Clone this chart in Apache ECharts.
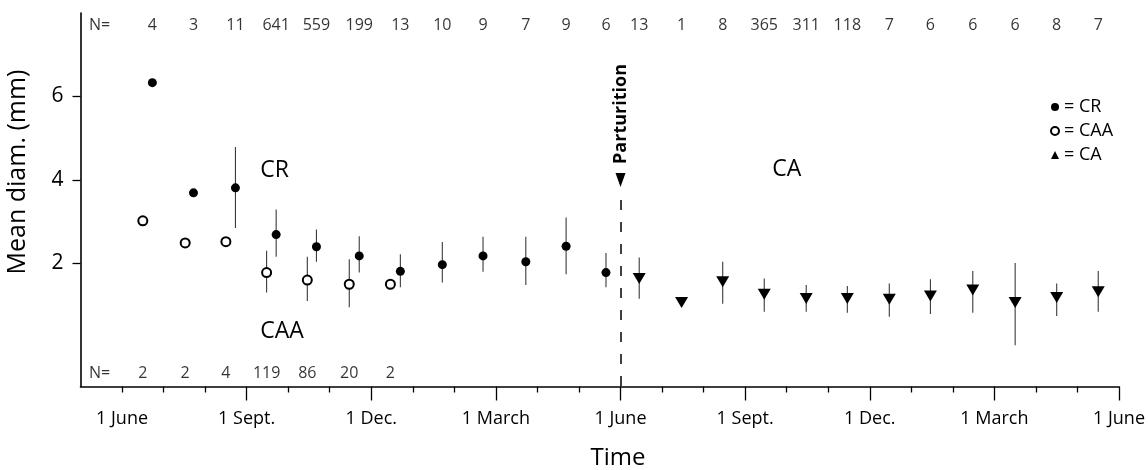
<!DOCTYPE html>
<html><head><meta charset="utf-8">
<script src="https://cdn.jsdelivr.net/npm/echarts@6/dist/echarts.min.js"></script>
<style>html,body{margin:0;padding:0;background:#fff}#c{width:1148px;height:470px}</style>
</head><body><div id="c"></div>
<script>
// ---- axis ticks (x in months after 1 June of year 1) ----
const tickMonths = [0, 3, 6, 9, 12, 15, 18, 21, 24];
const tickLabels = ['1 June', '1 Sept.', '1 Dec.', '1 March', '1 June', '1 Sept.', '1 Dec.', '1 March', '1 June'];
const majorTickMonths = [3, 6, 9, 12, 15, 18, 21, 24];
const minorTickMonths = [0, 1, 2, 4, 5, 7, 8, 10, 11, 13, 14, 16, 17, 19, 20, 22, 23];
const yTicks = [2, 4, 6];

// ---- CR (filled circles) ----
const crMonth = [0.73, 1.72, 2.73, 3.71, 4.68, 5.71, 6.70, 7.71, 8.69, 9.72, 10.69, 11.65];
const crMean  = [6.33, 3.69, 3.81, 2.69, 2.40, 2.18, 1.81, 1.97, 2.18, 2.04, 2.41, 1.78];
const crLow   = [null, null, 2.85, 2.16, 2.04, 1.78, 1.43, 1.54, 1.80, 1.48, 1.74, 1.43];
const crHigh  = [null, null, 4.79, 3.29, 2.81, 2.65, 2.22, 2.51, 2.64, 2.64, 3.10, 2.25];
const crN     = [4, 3, 11, 641, 559, 199, 13, 10, 9, 7, 9, 6];

// ---- CAA (open circles) ----
const caaMonth = [0.50, 1.52, 2.50, 3.48, 4.46, 5.47, 6.46];
const caaMean  = [3.02, 2.49, 2.52, 1.78, 1.60, 1.50, 1.50];
const caaLow   = [null, null, null, 1.30, 1.10, 0.95, null];
const caaHigh  = [null, null, null, 2.30, 2.16, 2.10, null];
const caaN     = [2, 2, 4, 119, 86, 20, 2];

// ---- CA (triangles) ----
const caMonth = [12.45, 13.47, 14.46, 15.46, 16.47, 17.46, 18.47, 19.46, 20.48, 21.50, 22.50, 23.50];
const caMean  = [1.64, 1.06, 1.56, 1.26, 1.16, 1.16, 1.14, 1.22, 1.36, 1.06, 1.18, 1.32];
const caLow   = [1.15, null, 1.03, 0.84, 0.84, 0.82, 0.72, 0.79, 0.82, 0.04, 0.74, 0.84];
const caHigh  = [2.14, null, 2.04, 1.64, 1.48, 1.46, 1.52, 1.62, 1.82, 2.01, 1.52, 1.82];
const caN     = [13, 1, 8, 365, 311, 118, 7, 6, 6, 6, 8, 7];

const partMonth = 12;

// ---- layout constants ----
const FONT = '"Open Sans", sans-serif';
const X_MIN = -1, X_MAX = 24, Y_MIN = -0.95, Y_MAX = 8;
const N_TOP_Y = 7.71, N_BOT_Y = -0.63, N_LABEL_X = -0.54;

const pts = (xs, ys) => xs.map((x, i) => [x, ys[i]]);
const bars = (xs, lo, hi) => xs.map((x, i) => [x, lo[i], hi[i]]).filter(d => d[1] != null && d[2] != null);

function errRender(params, api) {
  const x = api.value(0);
  const p1 = api.coord([x, api.value(1)]);
  const p2 = api.coord([x, api.value(2)]);
  return { type: 'line', shape: { x1: p1[0], y1: p1[1], x2: p2[0], y2: p2[1] },
           style: { stroke: '#3a3a3a', lineWidth: 1.1 } };
}

const topNData = crMonth.map((m, i) => [m, N_TOP_Y, crN[i]])
  .concat(caMonth.map((m, i) => [m, N_TOP_Y, caN[i]]))
  .concat([[N_LABEL_X, N_TOP_Y, 'N=']]);
const botNData = caaMonth.map((m, i) => [m, N_BOT_Y, caaN[i]])
  .concat([[N_LABEL_X, N_BOT_Y, 'N=']]);

const labelSeries = (data) => ({
  type: 'scatter', data, symbolSize: 1, itemStyle: { color: 'rgba(0,0,0,0)' }, silent: true, z: 5,
  label: { show: true, position: 'inside', formatter: p => String(p.value[2]),
           color: '#000', fontFamily: FONT, fontSize: 16 }
});

const chart = echarts.init(document.getElementById('c'), null, { renderer: 'canvas' });
chart.setOption({
  animation: false,
  backgroundColor: '#fff',
  textStyle: { fontFamily: FONT, color: '#000' },
  grid: { left: 80.5, right: 27, top: 13, bottom: 83.5, containLabel: false },
  legend: {
    orient: 'vertical', left: 1045, top: 93, itemWidth: 8, itemHeight: 8, itemGap: 6,
    symbolRotate: 0,
    formatter: n => '= ' + n,
    textStyle: { fontFamily: FONT, fontSize: 18, color: '#000' },
    data: [
      { name: 'CR', icon: 'circle' },
      { name: 'CAA', icon: 'emptyCircle' },
      { name: 'CA', icon: 'triangle' }
    ]
  },
  xAxis: [
    {
      type: 'value', min: X_MIN, max: X_MAX, position: 'bottom',
      axisLine: { show: true, onZero: false, lineStyle: { color: '#000', width: 1.6 } },
      axisTick: { show: true, customValues: majorTickMonths, length: 14, inside: false,
                  lineStyle: { color: '#000', width: 1.3 } },
      axisLabel: { show: true, customValues: tickMonths, margin: 23, color: '#000',
                   fontFamily: FONT, fontSize: 18,
                   formatter: v => { const i = tickMonths.indexOf(Math.round(v)); return i >= 0 ? tickLabels[i] : ''; } },
      splitLine: { show: false }
    },
    {
      type: 'value', min: X_MIN, max: X_MAX, position: 'bottom', gridIndex: 0,
      axisLine: { show: false, onZero: false },
      axisTick: { show: true, customValues: minorTickMonths, length: 6, inside: false,
                  lineStyle: { color: '#000', width: 1.3 } },
      axisLabel: { show: false },
      splitLine: { show: false }
    }
  ],
  yAxis: {
    type: 'value', min: Y_MIN, max: Y_MAX, position: 'left',
    axisLine: { show: true, onZero: false, lineStyle: { color: '#000', width: 1.6 } },
    axisTick: { show: true, customValues: yTicks, length: 8, lineStyle: { color: '#000', width: 1.3 } },
    axisLabel: { show: true, customValues: yTicks, margin: 17, color: '#000', fontFamily: FONT, fontSize: 21 },
    splitLine: { show: false }
  },
  series: [
    { type: 'custom', name: 'errCR', renderItem: errRender, data: bars(crMonth, crLow, crHigh), z: 2, silent: true },
    { type: 'custom', name: 'errCAA', renderItem: errRender, data: bars(caaMonth, caaLow, caaHigh), z: 2, silent: true },
    { type: 'custom', name: 'errCA', renderItem: errRender, data: bars(caMonth, caLow, caHigh), z: 2, silent: true },
    { type: 'scatter', name: 'CR', data: pts(crMonth, crMean), symbol: 'circle', symbolSize: 9,
      itemStyle: { color: '#000', opacity: 1 }, z: 4 },
    { type: 'scatter', name: 'CAA', data: pts(caaMonth, caaMean), symbol: 'emptyCircle', symbolSize: 9,
      itemStyle: { color: '#000', borderColor: '#000', borderWidth: 1, opacity: 1 }, z: 4 },
    { type: 'scatter', name: 'CA', data: pts(caMonth, caMean), symbol: 'triangle', symbolRotate: 180,
      symbolSize: [13, 11], itemStyle: { color: '#000', opacity: 1 }, z: 4,
      markLine: {
        silent: true, symbol: ['none', 'none'], label: { show: false },
        lineStyle: { color: '#000', width: 1.5, type: [10, 12] },
        data: [[{ coord: [partMonth, 3.52] }, { coord: [partMonth, Y_MIN] }]]
      },
      markPoint: {
        silent: true, label: { show: false },
        data: [{ coord: [partMonth, 4.0], symbol: 'triangle', symbolRotate: 180, symbolSize: [10, 14],
                 itemStyle: { color: '#000' } }]
      }
    },
    labelSeries(topNData),
    labelSeries(botNData)
  ]
});

function px(x, y) { return chart.convertToPixel({ gridIndex: 0 }, [x, y]); }
const annotations = [
  { text: 'CR', at: [3.67, 4.23], size: 23 },
  { text: 'CAA', at: [3.85, 0.36], size: 23 },
  { text: 'CA', at: [16.0, 4.25], size: 23 }
];
const graphics = annotations.map(a => {
  const p = px(a.at[0], a.at[1]);
  return { type: 'text', x: p[0], y: p[1], style: { text: a.text, fill: '#000', font: a.size + 'px ' + FONT, align: 'center', verticalAlign: 'middle' } };
});
const pp = px(partMonth, 5.58);
graphics.push({ type: 'text', x: pp[0], y: pp[1], rotation: Math.PI / 2,
  style: { text: 'Parturition', fill: '#000', font: 'bold 18px ' + FONT, align: 'center', verticalAlign: 'middle' } });
graphics.push({ type: 'text', x: 18, y: 172, rotation: Math.PI / 2,
  style: { text: 'Mean diam. (mm)', fill: '#000', font: '25px ' + FONT, align: 'center', verticalAlign: 'middle' } });
graphics.push({ type: 'text', x: 618, y: 458,
  style: { text: 'Time', fill: '#000', font: '24px ' + FONT, align: 'center', verticalAlign: 'middle' } });
chart.setOption({ graphic: graphics });
</script>
</body></html>
